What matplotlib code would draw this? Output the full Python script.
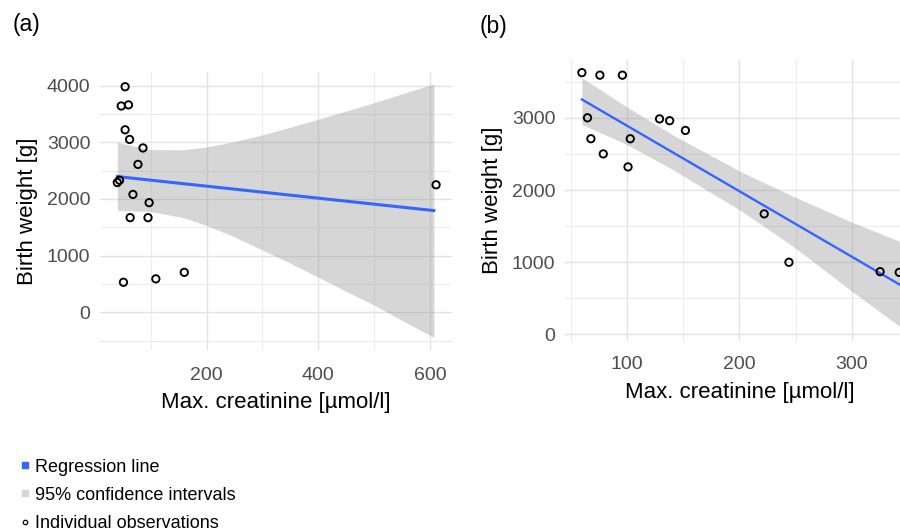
import numpy as np
import matplotlib
matplotlib.use('Agg')
import matplotlib.pyplot as plt
from matplotlib.lines import Line2D
from matplotlib.ticker import MultipleLocator

plt.rcParams['font.family'] = ['Liberation Sans', 'DejaVu Sans']

# panel (a): observations, fitted line and 95% band
x_a = [54, 47, 60, 54, 62, 86, 77, 40, 44, 68, 97, 63, 95, 51, 109, 160, 611]
y_a = [3980, 3640, 3660, 3220, 3050, 2900, 2610, 2290, 2330, 2080, 1935, 1670, 1670, 530, 590, 705, 2250]
fit_x_a = [40, 607]
fit_y_a = [2395, 1795]
band_x_a = [40, 98, 158, 200, 248, 296, 350, 400, 450, 502, 555, 607]
band_lo_a = [1795, 1782, 1670, 1532, 1340, 1118, 866, 620, 368, 118, -170, -441]
band_hi_a = [3000, 2871, 2868, 2918, 3009, 3120, 3266, 3408, 3552, 3706, 3870, 4030]

# panel (b)
x_b = [60, 76, 96, 65, 68, 79, 103, 101, 129, 138, 152, 222, 244, 325, 342]
y_b = [3625, 3590, 3590, 3000, 2710, 2500, 2710, 2320, 2985, 2960, 2825, 1670, 1000, 870, 860]
fit_x_b = [60, 343]
fit_y_b = [3254, 685]
band_x_b = [60, 100, 140, 200.7, 248, 298.5, 342.9]
band_lo_b = [2907, 2630, 2290, 1720, 1217, 615, 106]
band_hi_b = [3555, 3150, 2770, 2258, 1911, 1564, 1286]

BLUE = '#3366FF'
TICK = '#4d4d4d'


def style_axes(ax, xmaj, xmin, ymaj, ymin, xlim, ylim, xpad):
    ax.set_xlim(xlim)
    ax.set_ylim(ylim)
    ax.xaxis.set_major_locator(MultipleLocator(xmaj))
    ax.xaxis.set_minor_locator(MultipleLocator(xmin))
    ax.yaxis.set_major_locator(MultipleLocator(ymaj))
    ax.yaxis.set_minor_locator(MultipleLocator(ymin))
    ax.grid(which='major', color='#e3e3e3', lw=1.0)
    ax.grid(which='minor', color='#ececec', lw=0.8)
    ax.set_axisbelow(True)
    for s in ax.spines.values():
        s.set_visible(False)
    ax.tick_params(which='both', length=0, labelsize=14, labelcolor=TICK, pad=7)
    ax.tick_params(axis='x', pad=xpad)
    ax.set_xlabel('Max. creatinine [µmol/l]', fontsize=16, labelpad=6)
    ax.set_ylabel('Birth weight [g]', fontsize=16, labelpad=6)


def draw_panel(ax, x, y, fx, fy, bx, blo, bhi, lw):
    ax.fill_between(bx, blo, bhi, color='#999999', alpha=0.4, lw=0)
    ax.plot(fx, fy, color=BLUE, lw=lw)
    ax.scatter(x, y, s=28, facecolors='none', edgecolors='black', linewidths=1.35, zorder=3)


fig = plt.figure(figsize=(9, 5.32), dpi=100)

ax_a = fig.add_axes([100 / 900, 1 - 350 / 532, 352 / 900, 278 / 532])
draw_panel(ax_a, x_a, y_a, fit_x_a, fit_y_a, band_x_a, band_lo_a, band_hi_a, 2.2)
style_axes(ax_a, 200, 100, 1000, 500, (9, 639.5), (-665, 4240), 12)

ax_b = fig.add_axes([565 / 900, 1 - 341 / 532, 350 / 900, 281 / 532])
draw_panel(ax_b, x_b, y_b, fit_x_b, fit_y_b, band_x_b, band_lo_b, band_hi_b, 1.7)
style_axes(ax_b, 100, 50, 1000, 500, (45, 356), (-90, 3800), 11)

fig.text(13 / 900, 1 - 24 / 532, '(a)', fontsize=16.5, va='center', ha='left')
fig.text(480 / 900, 1 - 27 / 532, '(b)', fontsize=16.5, va='center', ha='left')

handles = [
    Line2D([], [], marker='s', color=BLUE, linestyle='none', markersize=5),
    Line2D([], [], marker='s', color='#d6d6d6', linestyle='none', markersize=5),
    Line2D([], [], marker='o', markerfacecolor='none', markeredgecolor='black',
           linestyle='none', markersize=3.2, markeredgewidth=0.9),
]
labels = ['Regression line', '95% confidence intervals', 'Individual observations']
fig.legend(handles, labels, loc='lower left', bbox_to_anchor=(0.022, 0.0),
           frameon=False, fontsize=13, handlelength=0.6, handletextpad=0.26,
           borderpad=0, borderaxespad=0, labelspacing=0.62)

fig.savefig('out.png', dpi=100)
